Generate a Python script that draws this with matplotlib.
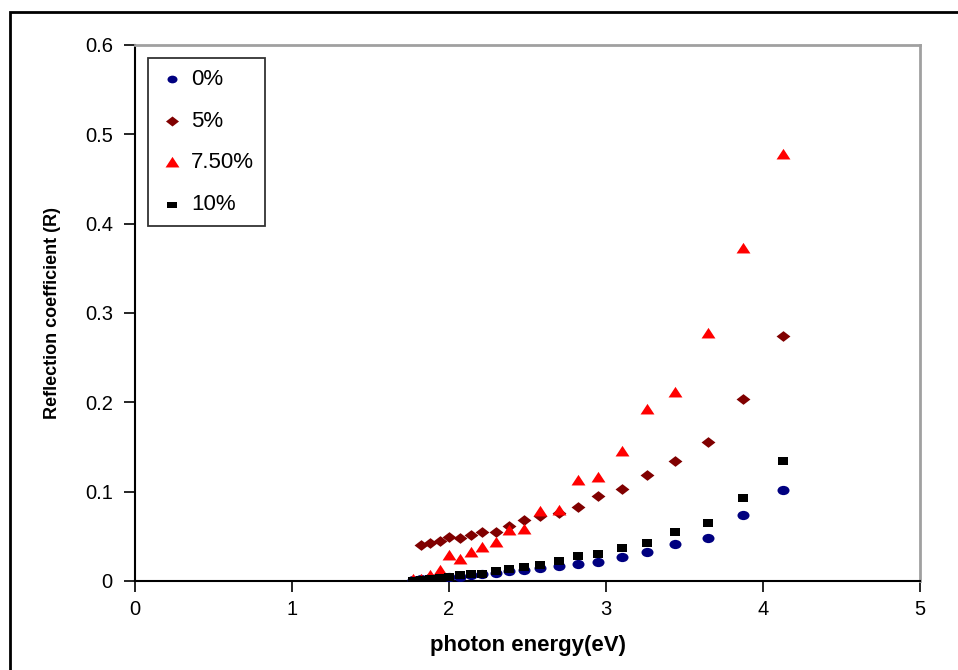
import matplotlib.pyplot as plt
from matplotlib.patches import Rectangle
from matplotlib.path import Path
from matplotlib.markers import MarkerStyle
from matplotlib.transforms import Affine2D

plt.rcParams['font.family'] = ['Liberation Sans', 'DejaVu Sans']

# photon energy (eV)
energy = [4.13, 3.87, 3.65, 3.44, 3.26, 3.10, 2.95, 2.82, 2.70, 2.58, 2.48,
          2.38, 2.30, 2.21, 2.14, 2.07, 2.00, 1.94, 1.88, 1.82, 1.77]

# reflection coefficient for each doping level
r_0 = [0.102, 0.074, 0.048, 0.041, 0.032, 0.027, 0.021, 0.019, 0.017, 0.015, 0.012,
       0.011, 0.009, 0.008, 0.007, 0.005, 0.005, 0.004, 0.003, 0.002, 0.001]
r_5 = [0.274, 0.204, 0.156, 0.134, 0.119, 0.103, 0.095, 0.083, 0.076, 0.073, 0.068,
       0.062, 0.055, 0.055, 0.051, 0.048, 0.049, 0.045, 0.043, 0.040]
r_75 = [0.477, 0.372, 0.276, 0.210, 0.191, 0.144, 0.115, 0.112, 0.078, 0.077, 0.057,
        0.056, 0.043, 0.037, 0.031, 0.023, 0.028, 0.011, 0.006, 0.001, 0.001]
r_10 = [0.134, 0.093, 0.065, 0.055, 0.043, 0.037, 0.030, 0.028, 0.022, 0.018, 0.016,
        0.013, 0.011, 0.008, 0.008, 0.007, 0.005, 0.003, 0.002, 0.001, 0.000]


# the original chart is a bit stretched sideways, so the markers are too
def wide(path, sx):
    return MarkerStyle(Affine2D().scale(sx, 1.0).transform_path(path))


circle = wide(Path.unit_circle(), 1.3)
diamond = wide(Path([(0, 1), (1, 0), (0, -1), (-1, 0), (0, 1)], closed=True), 1.3)
triangle = wide(Path([(0, 1), (1, -0.6), (-1, -0.6), (0, 1)], closed=True), 1.05)
square = wide(Path([(-1, -1), (1, -1), (1, 1), (-1, 1), (-1, -1)], closed=True), 1.45)

fig = plt.figure(figsize=(9.58, 6.7), dpi=100)
ax = fig.add_axes([135 / 958, 89 / 670, 785 / 958, 536 / 670])

ax.scatter(energy, r_0, marker=circle, s=75, color='#000080', linewidths=0, label='0%', zorder=3)
ax.scatter(energy[:len(r_5)], r_5, marker=diamond, s=100, color='#800000', linewidths=0,
           label='5%', zorder=3)
ax.scatter(energy, r_75, marker=triangle, s=100, color='#ff0000', linewidths=0,
           label='7.50%', zorder=3)
ax.scatter(energy, r_10, marker=square, s=60, color='black', linewidths=0, label='10%', zorder=4)

ax.set_xlim(0, 5)
ax.set_ylim(0, 0.6)
ax.set_xticks([0, 1, 2, 3, 4, 5])
ax.set_xticklabels(['0', '1', '2', '3', '4', '5'])
ax.set_yticks([0, 0.1, 0.2, 0.3, 0.4, 0.5, 0.6])
ax.set_yticklabels(['0', '0.1', '0.2', '0.3', '0.4', '0.5', '0.6'])
ax.tick_params(direction='out', length=8, width=1.2, labelsize=14.5, pad=6)
ax.tick_params(axis='y', pad=8)

for side in ['top', 'right']:
    ax.spines[side].set_color('#a0a0a0')
    ax.spines[side].set_linewidth(2)
for side in ['left', 'bottom']:
    ax.spines[side].set_linewidth(1.5)

ax.set_xlabel('photon energy(eV)', fontsize=16, fontweight='bold', labelpad=11)
ax.set_ylabel('Reflection coefficient (R)', fontsize=13, fontweight='bold', labelpad=17)

leg = ax.legend(loc='upper left', bbox_to_anchor=(13 / 785, 1 - 13 / 536), borderaxespad=0,
                fontsize=16, frameon=True, fancybox=False, edgecolor='black',
                handletextpad=0.25, labelspacing=0.94, borderpad=0.48, handlelength=1.2)
leg.get_frame().set_linewidth(1.3)
for h, sz in zip(leg.legend_handles, [52, 88, 100, 52]):
    h.set_sizes([sz])

# outer border of the chart area
fig.patches.append(Rectangle((10 / 958, -0.05), 1.0, 1 - 12 / 670 + 0.05,
                             transform=fig.transFigure, fill=False,
                             edgecolor='black', linewidth=2))

fig.savefig('out.png', dpi=100)
